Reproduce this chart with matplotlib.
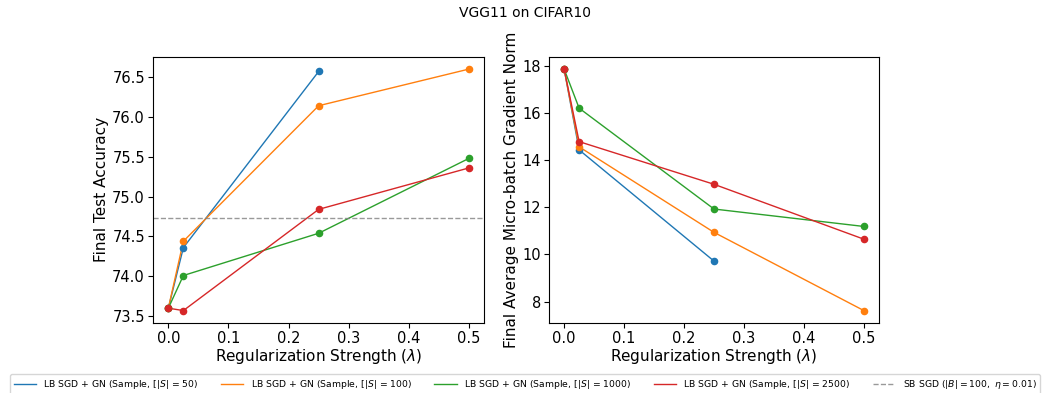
import matplotlib.pyplot as plt
import numpy as np

reg = [0.0, 0.025, 0.25, 0.5]

labels = [
    r"LB SGD + GN (Sample, $[|S|$ = 50)",
    r"LB SGD + GN (Sample, $[|S|$ = 100)",
    r"LB SGD + GN (Sample, $[|S|$ = 1000)",
    r"LB SGD + GN (Sample, $[|S|$ = 2500)",
]
sb_label = r"SB SGD ($|B| = 100,\ \eta = 0.01$)"
colors = ["#1f77b4", "#ff7f0e", "#2ca02c", "#d62728"]

# test accuracy, blue run has no 0.5 point
acc_50 = [73.60, 74.36, 76.57]
acc_100 = [73.60, 74.44, 76.14, 76.60]
acc_1000 = [73.60, 74.01, 74.54, 75.48]
acc_2500 = [73.60, 73.57, 74.84, 75.36]
acc_sb = 74.73

# gradient norms
gn_50 = [17.87, 14.44, 9.72]
gn_100 = [17.87, 14.57, 10.94, 7.62]
gn_1000 = [17.87, 16.21, 11.93, 11.19]
gn_2500 = [17.87, 14.79, 12.98, 10.65]

acc_all = [acc_50, acc_100, acc_1000, acc_2500]
gn_all = [gn_50, gn_100, gn_1000, gn_2500]

fig = plt.figure(figsize=(10.5, 3.93), dpi=100)
ax1 = fig.add_axes([0.146, 0.179, 0.315, 0.676])
ax2 = fig.add_axes([0.523, 0.179, 0.314, 0.676])

handles = []
for vals, c, lab in zip(acc_all, colors, labels):
    x = reg[:len(vals)]
    (h,) = ax1.plot(x, vals, color=c, linewidth=1.0, label=lab)
    ax1.scatter(x, vals, color=c, s=20, zorder=3)
    handles.append(h)
hsb = ax1.axhline(acc_sb, color="grey", linestyle="--", linewidth=1.0, alpha=0.8,
                  label=sb_label)
handles.append(hsb)

for vals, c in zip(gn_all, colors):
    x = reg[:len(vals)]
    ax2.plot(x, vals, color=c, linewidth=1.0)
    ax2.scatter(x, vals, color=c, s=20, zorder=3)

ax1.set_ylabel("Final Test Accuracy", fontsize=11, labelpad=2)
ax2.set_ylabel("Final Average Micro-batch Gradient Norm", fontsize=11, labelpad=2)
for ax in (ax1, ax2):
    ax.set_xlabel(r"Regularization Strength ($\lambda$)", fontsize=11, labelpad=1)
    ax.tick_params(labelsize=10.5, pad=2.5)
    ax.set_xticks([0.0, 0.1, 0.2, 0.3, 0.4, 0.5])

fig.suptitle("VGG11 on CIFAR10", fontsize=10, y=0.985)
fig.legend(handles=handles, loc="lower center", ncol=5, fontsize=6.7,
           bbox_to_anchor=(0.5, -0.004), columnspacing=2.4, handlelength=2.4,
           borderaxespad=0.0)

fig.savefig("out.png", dpi=100)
